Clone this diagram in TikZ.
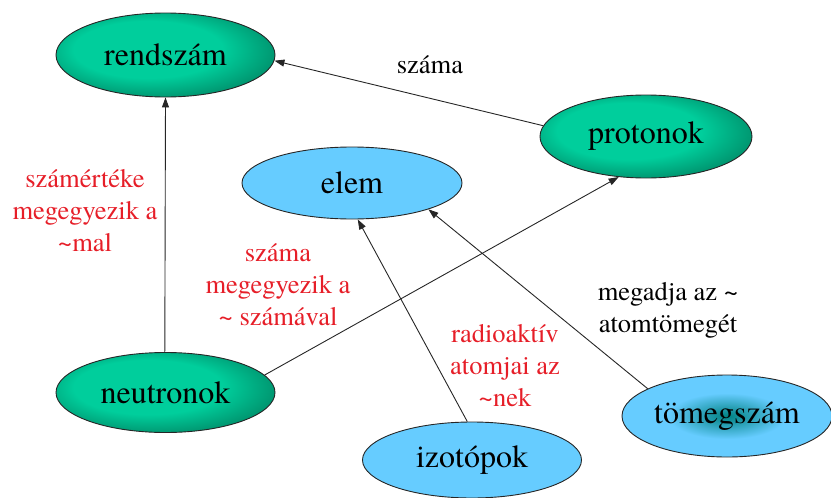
\documentclass[tikz,border=0pt]{standalone}
\usepackage{fontspec}
\setmainfont{TeX Gyre Termes}
\usetikzlibrary{shapes.geometric,arrows.meta}

\definecolor{mintgreen}{RGB}{0,206,156}
\definecolor{deepgreen}{RGB}{0,150,112}
\definecolor{skyblue}{RGB}{102,204,255}
\definecolor{tealdark}{RGB}{0,130,130}
\definecolor{labelred}{RGB}{230,30,40}

% green concepts: light body, darker rim
\pgfdeclareradialshading{greenglow}{\pgfpoint{-6bp}{5bp}}{%
  color(0bp)=(mintgreen); color(17bp)=(mintgreen);
  color(28bp)=(deepgreen); color(50bp)=(deepgreen)}
% blue concept with a dark teal core
\pgfdeclareradialshading{tealcore}{\pgfpoint{0bp}{0bp}}{%
  color(0bp)=(tealdark); color(14bp)=(skyblue); color(50bp)=(skyblue)}

\begin{document}
\begin{tikzpicture}[x=1pt,y=-1pt,
  concept/.style={ellipse, draw=black!85, line width=0.9pt, inner sep=0pt,
    font=\rmfamily\fontsize{32}{38}\selectfont},
  greenconcept/.style={concept, shading=greenglow},
  blueconcept/.style={concept, fill=skyblue},
  tealconcept/.style={concept, shading=tealcore},
  link/.style={draw=black!85, line width=0.9pt, -{Triangle[length=10pt,width=7pt]}},
  note/.style={font=\rmfamily\fontsize{26.5}{32}\selectfont, align=center, inner sep=0pt},
  rednote/.style={note, text=labelred}
]
\useasboundingbox (0,0) rectangle (831,498);

% concepts
\node[greenconcept, minimum width=219pt, minimum height=84pt] (rend) at (165.5,55) {rendszám};
\node[greenconcept, minimum width=212pt, minimum height=83pt] (prot) at (646,136.5) {protonok};
\node[blueconcept, minimum width=220pt, minimum height=72pt] (elem) at (352,183) {elem};
\node[greenconcept, minimum width=219pt, minimum height=80pt] (neu) at (165.5,392.5) {neutronok};
\node[blueconcept, minimum width=219pt, minimum height=76pt] (izo) at (472,460) {izotópok};
\node[tealconcept, minimum width=210pt, minimum height=82pt] (tom) at (727,416) {tömegszám};

% relations
\draw[link] (prot.174) -- (rend.357);
\draw[link] (neu.91) -- (rend.south);
\draw[link] (neu.10) -- (prot.236);
\draw[link] (izo.97) -- (elem.279);
\draw[link] (tom.161) -- (elem.341);

% relation labels
\node[note] (lprot) at (430,65) {száma};
\node[rednote] (lneu) at (85,211) {számértéke\\megegyezik a\\\textasciitilde mal};
\node[rednote] (lneuprot) at (278,285) {száma\\megegyezik a\\\textasciitilde{} számával};
\node[rednote] (lizo) at (505,366) {radioaktív\\atomjai az\\\textasciitilde nek};
\node[note] (ltom) at (668,310) {megadja az \textasciitilde\\atomtömegét};
\end{tikzpicture}
\end{document}
